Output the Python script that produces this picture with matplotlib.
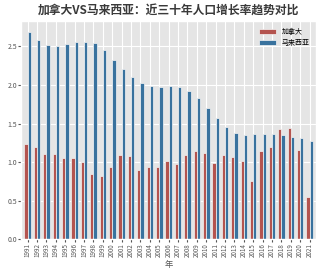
import matplotlib
matplotlib.use('Agg')
import matplotlib.pyplot as plt
import numpy as np

plt.style.use('ggplot')
plt.rcParams['font.family'] = ['Noto Sans CJK SC', 'DejaVu Sans']
plt.rcParams['axes.unicode_minus'] = False

years = list(range(1991, 2022))
canada = [1.24, 1.19, 1.11, 1.10, 1.05, 1.05, 1.00, 0.84, 0.82, 0.93,
          1.09, 1.08, 0.90, 0.93, 0.94, 1.01, 0.98, 1.09, 1.14, 1.12,
          0.99, 1.09, 1.06, 1.01, 0.75, 1.14, 1.20, 1.43, 1.44, 1.16, 0.55]
malaysia = [2.69, 2.58, 2.52, 2.51, 2.53, 2.56, 2.56, 2.54, 2.45, 2.33,
            2.21, 2.10, 2.02, 1.99, 1.98, 1.99, 1.98, 1.92, 1.83, 1.70,
            1.57, 1.45, 1.38, 1.35, 1.36, 1.37, 1.37, 1.35, 1.33, 1.31, 1.27]

x = np.arange(len(years))
w = 0.35

fig = plt.figure(figsize=(3.2, 2.79), dpi=100)
ax = fig.add_axes([0.066, 0.143, 0.922, 0.78])
ax.bar(x - w / 2, canada, width=w, color='#b4544f', edgecolor='#f4f4f4',
       linewidth=0.5, label='加拿大')
ax.bar(x + w / 2, malaysia, width=w, color='#39729e', edgecolor='#f4f4f4',
       linewidth=0.5, label='马来西亚')

ax.set_xticks(x)
ax.set_xticklabels([str(y) for y in years], rotation=90, fontsize=4.5)
ax.set_yticks([0.0, 0.5, 1.0, 1.5, 2.0, 2.5])
ax.tick_params(axis='y', labelsize=5, pad=1)
ax.tick_params(axis='x', pad=1)
ax.tick_params(length=2)
ax.set_xlim(-0.7, len(years) - 0.3)
ax.set_xlabel('年', fontsize=6, labelpad=2)
ax.set_title('加拿大VS马来西亚：近三十年人口增长率趋势对比', fontsize=8.5,
             fontweight='bold', color='#3a3a3a', pad=5)
ax.legend(loc='upper right', fontsize=5, frameon=False,
          handlelength=2.5, handleheight=0.8)

fig.savefig('out.png', dpi=100)
